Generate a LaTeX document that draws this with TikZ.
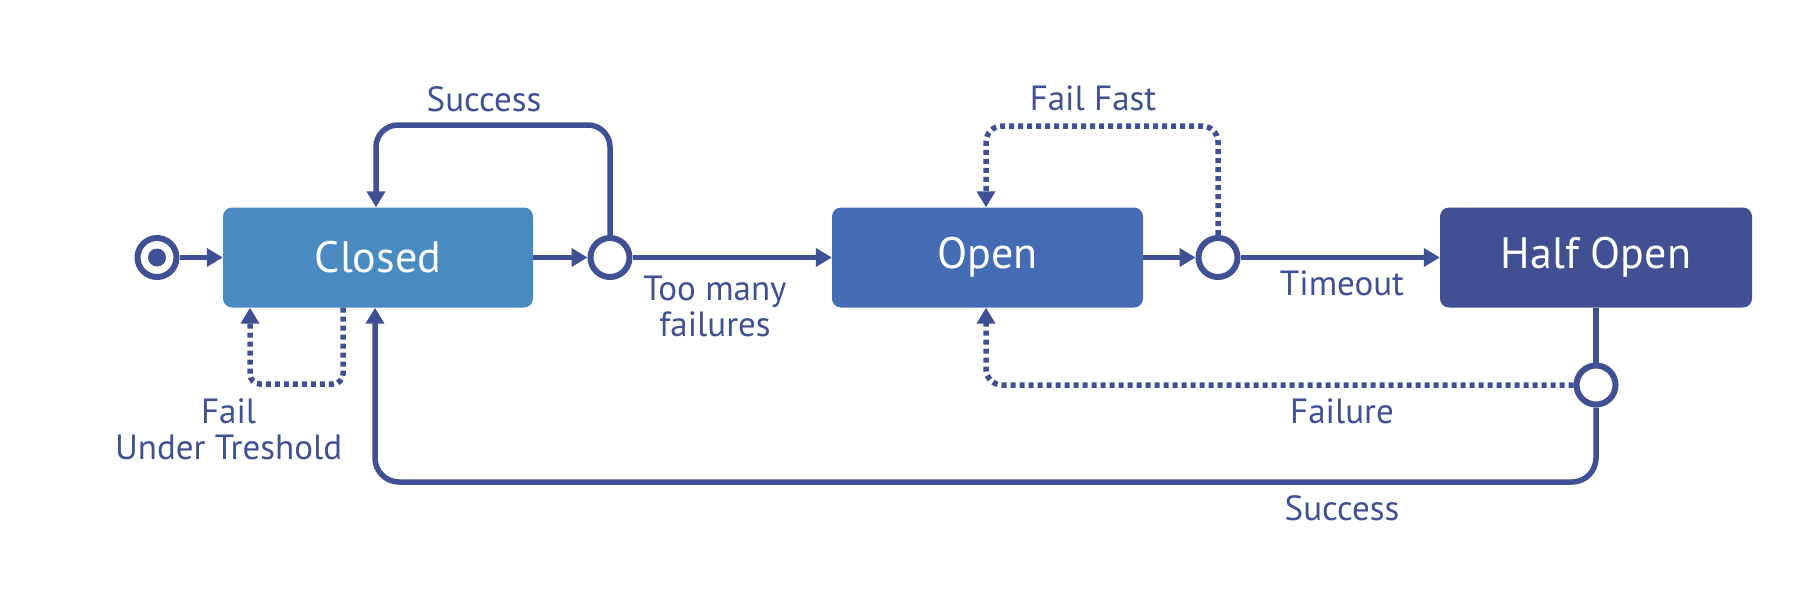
\documentclass[tikz,border=0pt]{standalone}
\usepackage{fontspec}
\setmainfont{PT Sans}
\usetikzlibrary{arrows.meta}
\definecolor{ink}{RGB}{64,80,148}
\definecolor{closedc}{RGB}{73,139,192}
\definecolor{openc}{RGB}{68,108,180}
\definecolor{halfc}{RGB}{64,80,146}
\begin{document}
\begin{tikzpicture}[x=1pt,y=-1pt,
  conn/.style={draw=ink,line width=5.5pt},
  arr/.style={conn,-{Triangle[length=16pt,width=18pt]}},
  dots/.style={dash pattern=on 5pt off 4pt},
  state/.style={rectangle,rounded corners=9pt,minimum height=100pt,text=white,font=\fontsize{44}{52}\selectfont,inner sep=0pt},
  choice/.style={circle,draw=ink,line width=6pt,fill=white,minimum size=39pt,inner sep=0pt},
  lab/.style={text=ink,font=\fontsize{35}{36}\selectfont,align=center,inner sep=0pt}]
\useasboundingbox (0,0) rectangle (1820,594);
% states
\node[state,fill=closedc,minimum width=310pt] (closed) at (378,257.5) {Closed};
\node[state,fill=openc,minimum width=311pt] (open) at (987.5,257.5) {Open};
\node[state,fill=halfc,minimum width=312pt] (half) at (1596,257.5) {Half Open};
% pseudo states
\node[choice] (init) at (157,257.5) {};
\node[circle,fill=ink,minimum size=18pt,inner sep=0pt] (initdot) at (init) {};
\node[choice] (c1) at (610,257.5) {};
\node[choice] (c2) at (1218,257.5) {};
\node[choice] (c3) at (1596,385) {};
% helper coordinates
\coordinate (topL) at (376,125);
\coordinate (fL) at (250,384);
\coordinate (fR) at (343,384);
\coordinate (sb) at (375,482);
\coordinate (fo) at (986,385);
\coordinate (ff) at (986,126);
% connectors
\draw[arr] (init) -- (closed);
\draw[arr] (closed) -- (c1);
\draw[arr] (c1) -- (open);
\draw[arr] (open) -- (c2);
\draw[arr] (c2) -- (half);
\draw[arr,rounded corners=22pt] (c1.north) |- (topL) -- (topL |- closed.north);
\draw[arr,dots,rounded corners=10pt] (fR |- closed.south) -- (fR) -- (fL) -- (fL |- closed.south);
\draw[arr,dots,rounded corners=16pt] (c2.north) |- (ff) -- (ff |- open.north);
\draw[conn] (half.south) -- (c3.north);
\draw[arr,dots,rounded corners=16pt] (c3.west) -- (fo) -- (fo |- open.south);
\draw[arr,rounded corners=24pt] (c3.south) |- (sb) -- (sb |- closed.south);
% labels
\node[lab] (lsuc1) at (484,99) {Success};
\node[lab] (ltoo) at (715,306) {Too many\\failures};
\node[lab] (lfail) at (228.6,429) {Fail\\Under Treshold};
\node[lab] (lff) at (1093,98) {Fail Fast};
\node[lab] (ltime) at (1342,283) {Timeout};
\node[lab] (lfailure) at (1342,411) {Failure};
\node[lab] (lsuc2) at (1342,508) {Success};
\end{tikzpicture}
\end{document}
